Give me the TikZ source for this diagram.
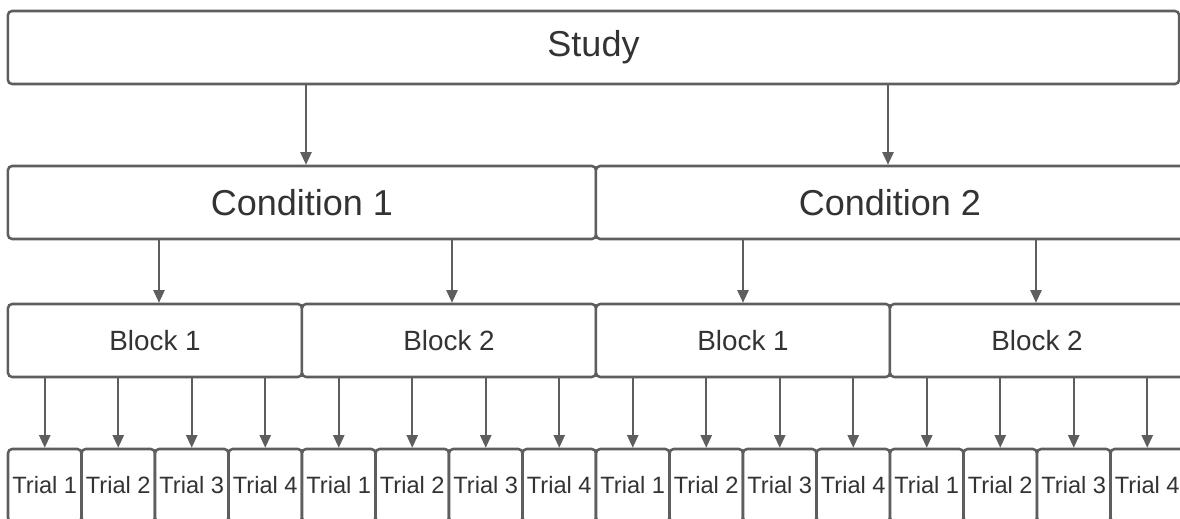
\documentclass[tikz,border=0pt]{standalone}
\usepackage{fontspec}
\setmainfont{Liberation Sans}
\usepackage{tikz}
\usetikzlibrary{arrows.meta}
\definecolor{linegray}{HTML}{5E5E5E}
\definecolor{textgray}{HTML}{333333}

\begin{document}
\begin{tikzpicture}[x=0.025cm, y=-0.025cm,
    box/.style={draw=linegray, line width=1.8pt, rounded corners=3pt, fill=white,
        text=textgray, inner sep=0pt, minimum height=1.825cm},
    arr/.style={draw=linegray, line width=1.3pt, -{Triangle[length=9pt,width=8pt]}}]
    \clip (0,0) rectangle (1180,519);
    \fill[white] (0,0) rectangle (1180,519);

    \node[box, minimum width=29.275cm, font=\fontsize{25.6}{30}\selectfont] (study) at (593.5,47.5) {Study};

    \node[box, minimum width=14.7cm, font=\fontsize{25.6}{30}\selectfont] (cond1) at (302,202.5) {Condition 1};
    \node[box, minimum width=14.7cm, font=\fontsize{25.6}{30}\selectfont] (cond2) at (890,202.5) {Condition 2};

    \foreach \b/\n/\x in {1/1/155, 2/2/449, 3/1/743, 4/2/1037}
        \node[box, minimum width=7.35cm, font=\fontsize{19.8}{24}\selectfont] (block\b) at (\x,340.5) {Block \n};

    \foreach \t in {1,...,16} {
        \pgfmathtruncatemacro{\k}{mod(\t-1,4)+1}
        \node[box, minimum width=1.8375cm, font=\fontsize{16.8}{20}\selectfont] (trial\t) at ({8+73.5*(\t-0.5)},485.5) {Trial \k};
    }

    % study to conditions
    \coordinate (s1) at (306,0);
    \coordinate (s2) at (888,0);
    \draw[arr] (s1 |- study.south) -- (s1 |- cond1.north);
    \draw[arr] (s2 |- study.south) -- (s2 |- cond2.north);

    % conditions to blocks
    \coordinate (k1) at (159,0);
    \coordinate (k2) at (452,0);
    \coordinate (k3) at (743,0);
    \coordinate (k4) at (1036,0);
    \draw[arr] (k1 |- cond1.south) -- (k1 |- block1.north);
    \draw[arr] (k2 |- cond1.south) -- (k2 |- block2.north);
    \draw[arr] (k3 |- cond2.south) -- (k3 |- block3.north);
    \draw[arr] (k4 |- cond2.south) -- (k4 |- block4.north);

    % blocks to trials
    \foreach \t in {1,...,16} {
        \pgfmathtruncatemacro{\b}{int((\t-1)/4)+1}
        \draw[arr] (trial\t.north |- block\b.south) -- (trial\t.north);
    }
\end{tikzpicture}
\end{document}
